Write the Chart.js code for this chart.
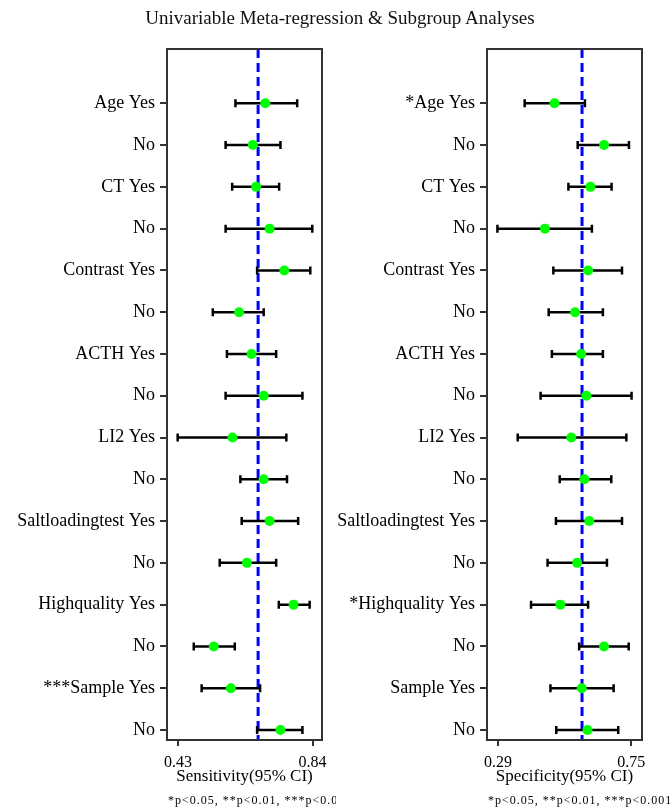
<!DOCTYPE html>
<html>
<head>
<meta charset="utf-8">
<script src="https://cdn.jsdelivr.net/npm/chart.js@4.4.1/dist/chart.umd.min.js"></script>
<style>
    html, body { margin: 0; padding: 0; background: #fff; }
    #contenedor { position: relative; width: 672px; height: 810px; }
    #contenedor canvas { position: absolute; top: 0; }
    #titulo {
        position: absolute; top: 8px; left: 0; width: 680px; text-align: center;
        font: 19px "Liberation Serif", "Times New Roman", serif; color: #111; line-height: 20px;
    }
</style>
</head>
<body>
<div id="contenedor">
    <canvas id="graficoSens" width="336" height="810" style="left:0"></canvas>
    <canvas id="graficoSpec" width="336" height="810" style="left:336px"></canvas>
    <div id="titulo">Univariable Meta-regression &amp; Subgroup Analyses</div>
</div>
<script>
// Etiquetas de cada fila (de arriba hacia abajo)
const etiquetasSens = ["Age Yes", "No", "CT Yes", "No", "Contrast Yes", "No", "ACTH Yes", "No",
    "LI2 Yes", "No", "Saltloadingtest Yes", "No", "Highquality Yes", "No", "***Sample Yes", "No"];
const etiquetasSpec = ["*Age Yes", "No", "CT Yes", "No", "Contrast Yes", "No", "ACTH Yes", "No",
    "LI2 Yes", "No", "Saltloadingtest Yes", "No", "*Highquality Yes", "No", "Sample Yes", "No"];

// Sensibilidad: estimado e IC 95%
const sensEst  = [0.696, 0.658, 0.668, 0.709, 0.754, 0.616, 0.654, 0.691, 0.596, 0.691, 0.709, 0.640, 0.782, 0.539, 0.591, 0.742];
const sensLow  = [0.605, 0.575, 0.595, 0.575, 0.671, 0.536, 0.579, 0.575, 0.429, 0.620, 0.624, 0.557, 0.737, 0.478, 0.502, 0.671];
const sensHigh = [0.793, 0.742, 0.738, 0.839, 0.833, 0.691, 0.729, 0.809, 0.760, 0.762, 0.796, 0.729, 0.831, 0.603, 0.680, 0.809];

// Especificidad: estimado e IC 95%
const specEst  = [0.485, 0.656, 0.609, 0.452, 0.601, 0.556, 0.577, 0.595, 0.543, 0.588, 0.605, 0.563, 0.505, 0.656, 0.579, 0.599];
const specLow  = [0.382, 0.565, 0.533, 0.288, 0.481, 0.465, 0.476, 0.437, 0.358, 0.503, 0.490, 0.461, 0.404, 0.570, 0.471, 0.491];
const specHigh = [0.590, 0.742, 0.682, 0.614, 0.718, 0.652, 0.652, 0.751, 0.733, 0.681, 0.718, 0.666, 0.601, 0.741, 0.689, 0.705];

// Marcas del eje x y valor global (linea discontinua)
const ticksSens = [0.43, 0.84];
const ticksSpec = [0.29, 0.75];
const refSens = 0.674;
const refSpec = 0.580;

const nota = "*p<0.05, **p<0.01, ***p<0.001";
const fuente = '"Liberation Serif", "Times New Roman", serif';

// Dibuja linea de referencia, barras de error, marco y nota
const pluginForest = {
    id: 'forest',
    beforeDatasetsDraw(chart, args, opts) {
        const {ctx, chartArea: a, scales: {x, y}} = chart;
        ctx.save();
        // linea discontinua azul
        const xr = x.getPixelForValue(opts.ref);
        ctx.strokeStyle = '#0000FF';
        ctx.lineWidth = 3;
        ctx.setLineDash([9, 5]);
        ctx.beginPath();
        ctx.moveTo(xr, a.top);
        ctx.lineTo(xr, a.bottom);
        ctx.stroke();
        ctx.setLineDash([]);
        // intervalos de confianza
        ctx.strokeStyle = '#000';
        ctx.lineWidth = 2.5;
        opts.low.forEach((lo, i) => {
            const x1 = x.getPixelForValue(lo);
            const x2 = x.getPixelForValue(opts.high[i]);
            const yy = y.getPixelForValue(i);
            ctx.beginPath();
            ctx.moveTo(x1, yy); ctx.lineTo(x2, yy);
            ctx.moveTo(x1, yy - 4); ctx.lineTo(x1, yy + 4);
            ctx.moveTo(x2, yy - 4); ctx.lineTo(x2, yy + 4);
            ctx.stroke();
        });
        ctx.restore();
    },
    afterDraw(chart, args, opts) {
        const {ctx, chartArea: a} = chart;
        ctx.save();
        ctx.strokeStyle = '#333';
        ctx.lineWidth = 2;
        ctx.strokeRect(a.left, a.top, a.width, a.height);
        ctx.fillStyle = '#000';
        ctx.font = '12px ' + fuente;
        ctx.letterSpacing = '1px';
        ctx.textBaseline = 'middle';
        ctx.fillText(nota, opts.notaX, 801);
        ctx.restore();
    }
};

function crearGrafico(id, etiquetas, est, low, high, marcas, ref, rango, titulo, anchoY, padDer, notaX) {
    return new Chart(document.querySelector(id), {
        type: 'scatter',
        data: {
            datasets: [{
                data: est.map((v, i) => ({x: v, y: i})),
                backgroundColor: '#00FF00',
                borderWidth: 0,
                pointRadius: 5,
                pointHoverRadius: 5
            }]
        },
        options: {
            responsive: false,
            animation: false,
            events: [],
            layout: {padding: {left: 0, right: padDer, top: 49, bottom: 0}},
            plugins: {
                legend: {display: false},
                tooltip: {enabled: false},
                forest: {ref: ref, low: low, high: high, notaX: notaX}
            },
            scales: {
                x: {
                    type: 'linear',
                    min: rango[0],
                    max: rango[1],
                    afterBuildTicks: s => { s.ticks = marcas.map(v => ({value: v})); },
                    afterFit: s => { s.height = 70; },
                    grid: {drawOnChartArea: false, drawTicks: true, tickLength: 6, color: '#333', lineWidth: 2},
                    border: {display: false},
                    ticks: {
                        autoSkip: false, maxRotation: 0, padding: 7, color: '#000',
                        font: {family: fuente, size: 16},
                        callback: v => v.toFixed(2)
                    },
                    title: {
                        display: true, text: titulo, color: '#000',
                        font: {family: fuente, size: 17},
                        padding: {top: 0, bottom: 23}
                    }
                },
                y: {
                    type: 'linear',
                    reverse: true,
                    min: -1.3,
                    max: 15.24,
                    afterBuildTicks: s => { s.ticks = etiquetas.map((_, i) => ({value: i})); },
                    afterFit: s => { s.width = anchoY; },
                    grid: {drawOnChartArea: false, drawTicks: true, tickLength: 7, color: '#333', lineWidth: 2},
                    border: {display: false},
                    ticks: {
                        autoSkip: false, padding: 5, color: '#000',
                        font: {family: fuente, size: 18},
                        callback: v => etiquetas[v]
                    }
                }
            }
        },
        plugins: [pluginForest]
    });
}

crearGrafico('#graficoSens', etiquetasSens, sensEst, sensLow, sensHigh, ticksSens, refSens,
    [0.3965, 0.8686], 'Sensitivity(95% CI)', 167, 14, 168);
crearGrafico('#graficoSpec', etiquetasSpec, specEst, specLow, specHigh, ticksSpec, refSpec,
    [0.252, 0.787], 'Specificity(95% CI)', 151, 30, 152);
</script>
</body>
</html>
